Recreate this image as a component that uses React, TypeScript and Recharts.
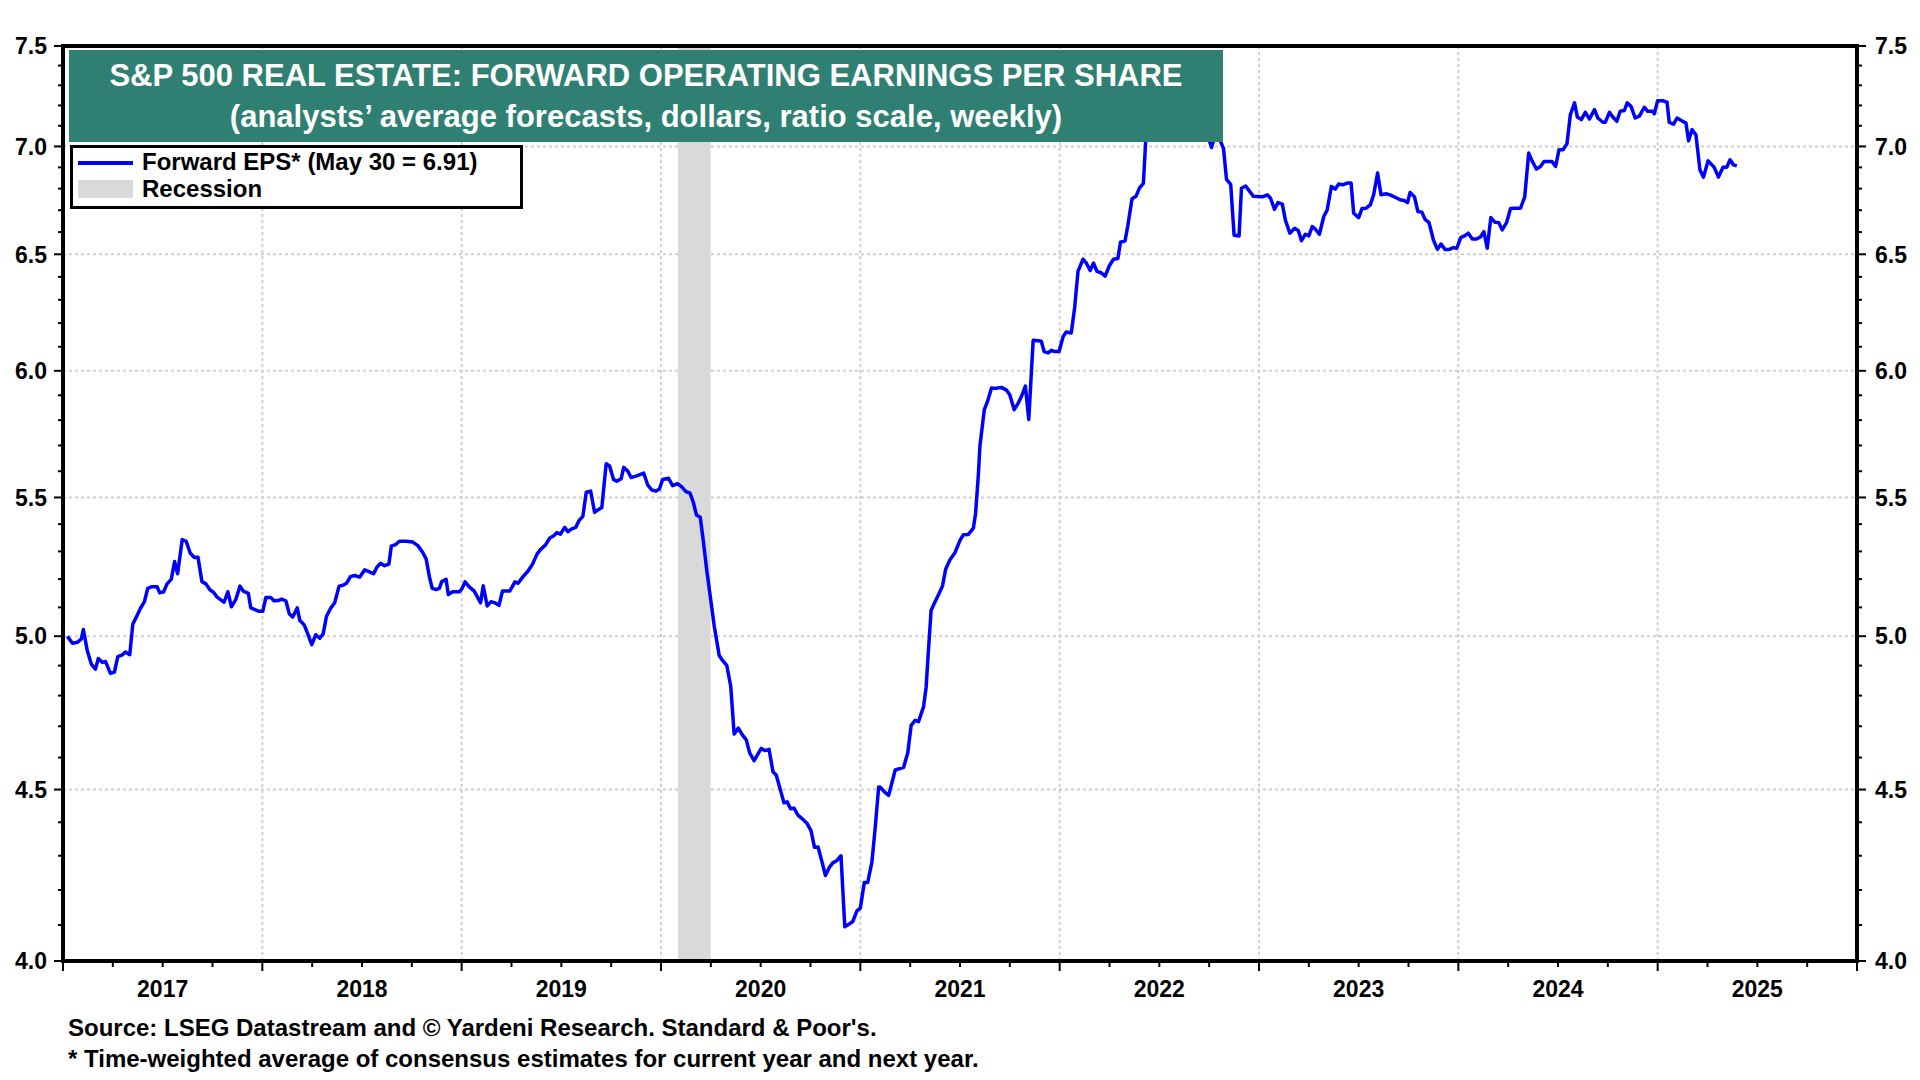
import React from "react";
import { LineChart, Line, XAxis, YAxis, CartesianGrid, ReferenceArea } from "recharts";

const FONT = '"Liberation Sans", Arial, Helvetica, sans-serif';
const TEAL = "#2F7F73";
const BLUE = "#0000FF";

// weekly forward EPS readings: [decimal year, dollars]
const eps2017to2018: [number, number][] = [
  [2017.022, 5.0], [2017.047, 4.976], [2017.072, 4.979], [2017.092, 4.991], [2017.102, 5.023], [2017.122, 4.95],
  [2017.142, 4.905], [2017.163, 4.888], [2017.177, 4.924], [2017.197, 4.911], [2017.213, 4.914], [2017.238, 4.874],
  [2017.258, 4.878], [2017.275, 4.93], [2017.297, 4.936], [2017.313, 4.946], [2017.335, 4.937], [2017.35, 5.041],
  [2017.372, 5.072], [2017.388, 5.096], [2017.408, 5.119], [2017.425, 5.167], [2017.447, 5.173], [2017.472, 5.173],
  [2017.485, 5.151], [2017.505, 5.155], [2017.522, 5.183], [2017.543, 5.199], [2017.56, 5.263], [2017.575, 5.219],
  [2017.598, 5.343], [2017.618, 5.337], [2017.638, 5.294], [2017.658, 5.278], [2017.677, 5.279], [2017.697, 5.191],
  [2017.717, 5.183], [2017.738, 5.161], [2017.755, 5.153], [2017.772, 5.137], [2017.788, 5.128], [2017.808, 5.118],
  [2017.827, 5.155], [2017.845, 5.102], [2017.867, 5.128], [2017.888, 5.175], [2017.905, 5.157], [2017.93, 5.149],
  [2017.942, 5.098], [2017.963, 5.092], [2017.983, 5.086], [2018.002, 5.086], [2018.018, 5.135], [2018.042, 5.135],
  [2018.058, 5.123], [2018.08, 5.124], [2018.097, 5.129], [2018.118, 5.123], [2018.135, 5.078], [2018.152, 5.066],
  [2018.175, 5.098], [2018.188, 5.055], [2018.21, 5.039], [2018.225, 5.013], [2018.248, 4.971], [2018.268, 5.005],
  [2018.288, 4.993], [2018.305, 5.008], [2018.322, 5.069], [2018.342, 5.096], [2018.363, 5.116], [2018.385, 5.175],
  [2018.405, 5.178], [2018.422, 5.185], [2018.442, 5.209], [2018.463, 5.213], [2018.488, 5.207], [2018.513, 5.233],
  [2018.535, 5.227], [2018.558, 5.219], [2018.575, 5.243], [2018.593, 5.257], [2018.613, 5.248], [2018.635, 5.254],
  [2018.647, 5.319], [2018.668, 5.325], [2018.688, 5.337], [2018.722, 5.337], [2018.755, 5.334], [2018.78, 5.321],
  [2018.805, 5.296], [2018.822, 5.272], [2018.838, 5.209], [2018.852, 5.167], [2018.872, 5.163], [2018.888, 5.167],
  [2018.9, 5.191], [2018.922, 5.199], [2018.933, 5.145], [2018.955, 5.155], [2018.988, 5.155],
];

const eps2019to2020: [number, number][] = [
  [2019.0, 5.164], [2019.017, 5.19], [2019.038, 5.172], [2019.062, 5.158], [2019.078, 5.138], [2019.095, 5.116],
  [2019.108, 5.176], [2019.128, 5.105], [2019.147, 5.12], [2019.167, 5.116], [2019.187, 5.107], [2019.205, 5.158],
  [2019.242, 5.158], [2019.267, 5.19], [2019.283, 5.185], [2019.308, 5.209], [2019.333, 5.229], [2019.355, 5.253],
  [2019.378, 5.29], [2019.397, 5.308], [2019.42, 5.323], [2019.442, 5.349], [2019.462, 5.357], [2019.478, 5.369],
  [2019.495, 5.363], [2019.517, 5.388], [2019.533, 5.372], [2019.55, 5.382], [2019.572, 5.388], [2019.588, 5.413],
  [2019.608, 5.429], [2019.625, 5.52], [2019.647, 5.524], [2019.667, 5.444], [2019.683, 5.453], [2019.703, 5.462],
  [2019.725, 5.629], [2019.742, 5.62], [2019.762, 5.568], [2019.778, 5.562], [2019.8, 5.571], [2019.813, 5.615],
  [2019.833, 5.601], [2019.85, 5.576], [2019.875, 5.581], [2019.913, 5.593], [2019.933, 5.548], [2019.953, 5.529],
  [2019.975, 5.524], [2019.992, 5.532], [2020.008, 5.568], [2020.038, 5.573], [2020.058, 5.545], [2020.083, 5.552],
  [2020.103, 5.541], [2020.125, 5.522], [2020.145, 5.517], [2020.162, 5.482], [2020.178, 5.434], [2020.197, 5.426],
  [2020.213, 5.333], [2020.23, 5.229], [2020.247, 5.14], [2020.267, 5.035], [2020.292, 4.934], [2020.308, 4.918],
  [2020.33, 4.901], [2020.35, 4.83], [2020.367, 4.675], [2020.388, 4.694], [2020.408, 4.672], [2020.428, 4.656],
  [2020.445, 4.615], [2020.467, 4.59], [2020.483, 4.608], [2020.503, 4.629], [2020.522, 4.622], [2020.542, 4.626],
  [2020.562, 4.555], [2020.578, 4.545], [2020.597, 4.503], [2020.617, 4.459], [2020.633, 4.462], [2020.65, 4.441],
  [2020.667, 4.443], [2020.688, 4.421], [2020.708, 4.411], [2020.733, 4.396], [2020.753, 4.374], [2020.77, 4.325],
  [2020.788, 4.326], [2020.808, 4.281], [2020.825, 4.242], [2020.845, 4.266], [2020.862, 4.279], [2020.883, 4.286],
  [2020.903, 4.3], [2020.922, 4.095], [2020.942, 4.102], [2020.962, 4.11], [2020.983, 4.14],
];

const eps2021to2022: [number, number][] = [
  [2021.0, 4.148], [2021.02, 4.222], [2021.037, 4.222], [2021.058, 4.281], [2021.075, 4.386], [2021.092, 4.508],
  [2021.1, 4.507], [2021.122, 4.492], [2021.142, 4.482], [2021.175, 4.561], [2021.217, 4.569], [2021.238, 4.615],
  [2021.255, 4.703], [2021.275, 4.719], [2021.292, 4.715], [2021.317, 4.763], [2021.33, 4.827], [2021.342, 4.955],
  [2021.355, 5.089], [2021.372, 5.115], [2021.395, 5.149], [2021.412, 5.175], [2021.428, 5.235], [2021.45, 5.27],
  [2021.475, 5.296], [2021.5, 5.34], [2021.517, 5.361], [2021.542, 5.362], [2021.567, 5.385], [2021.578, 5.439],
  [2021.592, 5.585], [2021.6, 5.698], [2021.622, 5.842], [2021.638, 5.875], [2021.658, 5.93], [2021.675, 5.928],
  [2021.708, 5.932], [2021.733, 5.921], [2021.75, 5.901], [2021.772, 5.842], [2021.792, 5.868], [2021.808, 5.895],
  [2021.828, 5.937], [2021.845, 5.803], [2021.867, 6.127], [2021.892, 6.125], [2021.908, 6.123], [2021.922, 6.08],
  [2021.942, 6.074], [2021.958, 6.085], [2021.975, 6.08], [2021.997, 6.08], [2022.017, 6.142], [2022.033, 6.162],
  [2022.058, 6.158], [2022.075, 6.265], [2022.092, 6.424], [2022.117, 6.478], [2022.133, 6.462], [2022.153, 6.428],
  [2022.17, 6.461], [2022.187, 6.424], [2022.208, 6.418], [2022.228, 6.403], [2022.25, 6.45], [2022.27, 6.478],
  [2022.292, 6.481], [2022.305, 6.554], [2022.328, 6.56], [2022.342, 6.63], [2022.363, 6.753], [2022.383, 6.764],
  [2022.4, 6.802], [2022.42, 6.825], [2022.433, 7.052], [2022.45, 7.16], [2022.47, 7.21], [2022.49, 7.24],
  [2022.51, 7.26], [2022.53, 7.3], [2022.55, 7.28], [2022.57, 7.31], [2022.59, 7.29], [2022.61, 7.27],
  [2022.63, 7.26], [2022.65, 7.22], [2022.67, 7.2], [2022.69, 7.15], [2022.71, 7.12], [2022.73, 7.08],
  [2022.75, 7.03], [2022.762, 6.995], [2022.778, 7.05], [2022.8, 7.04], [2022.822, 6.99], [2022.837, 6.843],
  [2022.858, 6.82], [2022.875, 6.586], [2022.9, 6.582], [2022.912, 6.802], [2022.933, 6.812], [2022.972, 6.764],
];

const eps2023to2025: [number, number][] = [
  [2023.017, 6.762], [2023.042, 6.771], [2023.058, 6.755], [2023.078, 6.704], [2023.095, 6.735], [2023.117, 6.728],
  [2023.133, 6.652], [2023.155, 6.595], [2023.178, 6.617], [2023.197, 6.607], [2023.213, 6.561], [2023.233, 6.59],
  [2023.25, 6.583], [2023.267, 6.625], [2023.283, 6.613], [2023.303, 6.59], [2023.325, 6.671], [2023.342, 6.701],
  [2023.363, 6.81], [2023.383, 6.798], [2023.4, 6.822], [2023.42, 6.818], [2023.442, 6.826], [2023.462, 6.826],
  [2023.475, 6.686], [2023.5, 6.666], [2023.517, 6.708], [2023.538, 6.709], [2023.558, 6.724], [2023.575, 6.771],
  [2023.595, 6.873], [2023.612, 6.771], [2023.637, 6.776], [2023.658, 6.771], [2023.683, 6.76], [2023.708, 6.748],
  [2023.728, 6.745], [2023.745, 6.735], [2023.758, 6.782], [2023.78, 6.762], [2023.797, 6.694], [2023.817, 6.691],
  [2023.833, 6.658], [2023.853, 6.643], [2023.875, 6.564], [2023.895, 6.522], [2023.913, 6.546], [2023.933, 6.522],
  [2023.955, 6.522], [2023.975, 6.53], [2023.992, 6.527], [2024.012, 6.575], [2024.033, 6.584], [2024.05, 6.595],
  [2024.07, 6.569], [2024.092, 6.569], [2024.112, 6.579], [2024.128, 6.602], [2024.145, 6.527], [2024.163, 6.666],
  [2024.183, 6.645], [2024.203, 6.643], [2024.22, 6.61], [2024.242, 6.643], [2024.262, 6.708], [2024.283, 6.709],
  [2024.312, 6.709], [2024.333, 6.762], [2024.353, 6.968], [2024.37, 6.931], [2024.392, 6.892], [2024.412, 6.904],
  [2024.43, 6.928], [2024.45, 6.928], [2024.47, 6.928], [2024.488, 6.904], [2024.505, 6.984], [2024.525, 6.984],
  [2024.545, 7.013], [2024.562, 7.154], [2024.583, 7.213], [2024.597, 7.143], [2024.617, 7.13], [2024.637, 7.166],
  [2024.658, 7.133], [2024.683, 7.179], [2024.7, 7.138], [2024.725, 7.117], [2024.737, 7.117], [2024.758, 7.166],
  [2024.775, 7.143], [2024.795, 7.122], [2024.812, 7.171], [2024.833, 7.175], [2024.847, 7.213], [2024.867, 7.194],
  [2024.887, 7.138], [2024.908, 7.147], [2024.933, 7.191], [2024.95, 7.171], [2024.975, 7.171], [2024.983, 7.159],
  [2025.0, 7.223], [2025.025, 7.223], [2025.047, 7.216], [2025.058, 7.117], [2025.08, 7.108], [2025.097, 7.138],
  [2025.125, 7.122], [2025.142, 7.113], [2025.155, 7.027], [2025.172, 7.081], [2025.192, 7.056], [2025.212, 6.888],
  [2025.23, 6.854], [2025.253, 6.931], [2025.283, 6.901], [2025.305, 6.854], [2025.328, 6.901], [2025.347, 6.901],
  [2025.363, 6.936], [2025.38, 6.912], [2025.397, 6.907],
];

const recession = [2020.085, 2020.249];
const years = [2017, 2018, 2019, 2020, 2021, 2022, 2023, 2024, 2025, 2026];
const gridY = [4.5, 5.0, 5.5, 6.0, 6.5, 7.0];

const quarterTicks = years.flatMap((y) => (y < 2026 ? [y, y + 0.25, y + 0.5, y + 0.75] : [y]));
const minorY = Array.from({ length: 36 }, (_, i) => Math.round((4 + i * 0.1) * 10) / 10);

const data = [...eps2017to2018, ...eps2019to2020, ...eps2021to2022, ...eps2023to2025].map(([t, eps]) => ({ t, eps }));

const textStyle = { fontFamily: FONT, fontWeight: 700, fill: "#000" } as const;

const isMajor = (v: number) => Math.abs(v * 2 - Math.round(v * 2)) < 1e-6;

const XTick = (props: any) => {
  const { x, y, payload } = props;
  const v = payload.value;
  const isYear = Math.abs(v - Math.round(v)) < 1e-6;
  const isMid = Math.abs(v - Math.floor(v) - 0.5) < 1e-6;
  return (
    <g>
      <line x1={x} x2={x} y1={y} y2={y + (isYear ? 10 : 6)} stroke="#000" strokeWidth={2} />
      {isMid && (
        <text x={x} y={y + 36} textAnchor="middle" fontSize={23} {...textStyle}>
          {Math.floor(v)}
        </text>
      )}
    </g>
  );
};

const LeftTick = (props: any) => {
  const { x, y, payload } = props;
  const v = payload.value;
  const major = isMajor(v);
  return (
    <g>
      <line x1={x} x2={x - (major ? 9 : 5)} y1={y} y2={y} stroke="#000" strokeWidth={2} />
      {major && (
        <text x={x - 16} y={y} dy="0.36em" textAnchor="end" fontSize={23} {...textStyle}>
          {v.toFixed(1)}
        </text>
      )}
    </g>
  );
};

const RightTick = (props: any) => {
  const { x, y, payload } = props;
  const v = payload.value;
  const major = isMajor(v);
  return (
    <g>
      <line x1={x} x2={x + (major ? 9 : 5)} y1={y} y2={y} stroke="#000" strokeWidth={2} />
      {major && (
        <text x={x + 18} y={y} dy="0.36em" textAnchor="start" fontSize={23} {...textStyle}>
          {v.toFixed(1)}
        </text>
      )}
    </g>
  );
};

const axisLine = { stroke: "#000", strokeWidth: 4, strokeLinecap: "square" as const };

export default function App() {
  return (
    <div style={{ position: "absolute", left: 0, top: 0, width: 1920, height: 1080, background: "#fff", fontFamily: FONT }}>
      <LineChart width={1920} height={1080} data={data} margin={{ top: 45, right: 0, bottom: 0, left: 0 }}>
        <XAxis
          xAxisId="main"
          type="number"
          dataKey="t"
          domain={[2017, 2026]}
          ticks={quarterTicks}
          interval={0}
          height={119}
          tickSize={0}
          tickMargin={0}
          tick={XTick}
          axisLine={axisLine}
          allowDataOverflow
        />
        <XAxis xAxisId="top" orientation="top" type="number" dataKey="t" domain={[2017, 2026]} height={1} tick={false} tickLine={false} axisLine={axisLine} />
        <YAxis
          yAxisId="left"
          orientation="left"
          scale="log"
          domain={[4, 7.5]}
          ticks={minorY}
          interval={0}
          width={63}
          tickSize={0}
          tickMargin={0}
          tick={LeftTick}
          axisLine={axisLine}
          allowDataOverflow
        />
        <YAxis
          yAxisId="right"
          orientation="right"
          scale="log"
          domain={[4, 7.5]}
          ticks={minorY}
          interval={0}
          width={63}
          tickSize={0}
          tickMargin={0}
          tick={RightTick}
          axisLine={axisLine}
          allowDataOverflow
        />
        <XAxis xAxisId="grid" type="number" dataKey="t" domain={[2017, 2026]} ticks={years} height={0} hide />
        <YAxis yAxisId="grid" scale="log" domain={[4, 7.5]} ticks={gridY} width={0} allowDataOverflow hide />
        <ReferenceArea xAxisId="main" yAxisId="left" x1={recession[0]} x2={recession[1]} fill="#D9D9D9" fillOpacity={1} stroke="none" ifOverflow="hidden" />
        <CartesianGrid xAxisId="grid" yAxisId="grid" stroke="#CFCFCF" strokeWidth={2} strokeDasharray="3 3" />
        <Line
          xAxisId="main"
          yAxisId="left"
          type="linear"
          dataKey="eps"
          stroke={BLUE}
          strokeWidth={3.5}
          strokeLinejoin="round"
          dot={false}
          activeDot={false}
          isAnimationActive={false}
        />
      </LineChart>

      <div
        style={{
          position: "absolute",
          left: 69,
          top: 50,
          width: 1154,
          height: 92,
          background: TEAL,
          color: "#fff",
          fontWeight: 700,
          fontSize: 31,
          lineHeight: "41px",
          textAlign: "center",
          paddingTop: 5,
          boxSizing: "border-box",
          whiteSpace: "nowrap",
        }}
      >
        <div>S&amp;P 500 REAL ESTATE: FORWARD OPERATING EARNINGS PER SHARE</div>
        <div>(analysts’ average forecasts, dollars, ratio scale, weekly)</div>
      </div>

      <div
        style={{
          position: "absolute",
          left: 70,
          top: 145,
          width: 453,
          height: 64,
          background: "#fff",
          border: "3px solid #000",
          boxSizing: "border-box",
          fontWeight: 700,
          fontSize: 24,
        }}
      >
        <div style={{ position: "absolute", left: 5, top: 13, width: 55, height: 4, background: BLUE }} />
        <div style={{ position: "absolute", left: 69, top: 1, lineHeight: "26px", whiteSpace: "nowrap" }}>Forward EPS* (May 30 = 6.91)</div>
        <div style={{ position: "absolute", left: 5, top: 32, width: 55, height: 18, background: "#D9D9D9" }} />
        <div style={{ position: "absolute", left: 69, top: 28, lineHeight: "26px", whiteSpace: "nowrap" }}>Recession</div>
      </div>

      <div style={{ position: "absolute", left: 68, top: 1014, fontWeight: 700, fontSize: 24, lineHeight: "28px", whiteSpace: "nowrap" }}>
        Source: LSEG Datastream and © Yardeni Research. Standard &amp; Poor's.
      </div>
      <div style={{ position: "absolute", left: 68, top: 1045, fontWeight: 700, fontSize: 24, lineHeight: "28px", whiteSpace: "nowrap" }}>
        * Time-weighted average of consensus estimates for current year and next year.
      </div>
    </div>
  );
}
